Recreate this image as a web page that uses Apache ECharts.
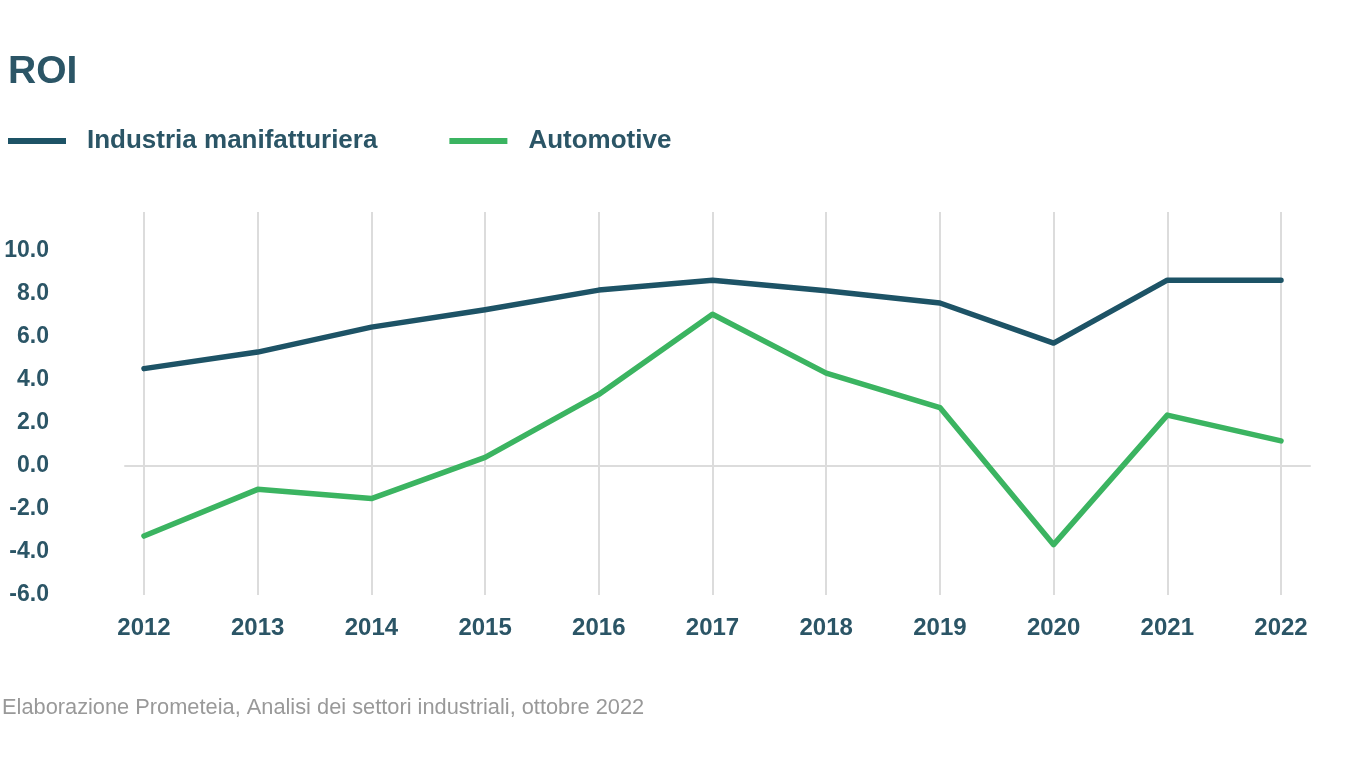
<!DOCTYPE html>
<html>
<head>
<meta charset="utf-8">
<script src="https://cdn.jsdelivr.net/npm/echarts@6/dist/echarts.min.js"></script>
<style>html,body{margin:0;padding:0;background:#fff}#c{width:1364px;height:782px}</style>
</head>
<body>
<div id="c"></div>
<script>
const years = [2012, 2013, 2014, 2015, 2016, 2017, 2018, 2019, 2020, 2021, 2022];
const industria = [4.52, 5.29, 6.45, 7.26, 8.17, 8.63, 8.14, 7.57, 5.71, 8.63, 8.63];
const automotive = [-3.26, -1.09, -1.52, 0.40, 3.32, 7.05, 4.31, 2.71, -3.66, 2.36, 1.16];
const yTicks = [-6, -4, -2, 0, 2, 4, 6, 8, 10];

const DARK = '#1d5366';
const GREEN = '#3bb461';
const TXT = '#2b5566';
const FONT = 'Liberation Sans, Arial, sans-serif';

const chart = echarts.init(document.getElementById('c'), null, {renderer: 'canvas'});
chart.setOption({
  animation: false,
  textStyle: {fontFamily: FONT},
  title: [
    {text: 'ROI', left: 3, top: 48, textStyle: {fontSize: 39, fontWeight: 'bold', color: TXT, fontFamily: FONT}},
    {text: 'Elaborazione Prometeia, Analisi dei settori industriali, ottobre 2022', left: -3, top: 692,
     textStyle: {fontSize: 21.8, fontWeight: 'normal', color: '#999999', fontFamily: FONT}}
  ],
  legend: {
    left: 3, top: 123, itemWidth: 58, itemHeight: 6, itemGap: 72, icon: 'rect',
    textStyle: {fontSize: 26, fontWeight: 'bold', color: TXT, fontFamily: FONT, padding: [0, 0, 0, 16]},
    data: ['Industria manifatturiera', 'Automotive']
  },
  grid: {left: 125, right: 54, top: 212, bottom: 187, containLabel: false},
  xAxis: {
    type: 'value', min: 2011.833, max: 2022.255,
    axisLine: {show: true, onZero: true, lineStyle: {color: '#dcdcdc', width: 2}},
    axisTick: {show: false},
    splitLine: {show: false},
    axisLabel: {customValues: years, formatter: v => String(Math.round(v)), fontSize: 24, fontWeight: 'bold', color: TXT, margin: 21, fontFamily: FONT}
  },
  yAxis: {
    type: 'value', min: -6, max: 11.8, interval: 2,
    axisLine: {show: false}, axisTick: {show: false}, splitLine: {show: false},
    axisLabel: {customValues: yTicks, formatter: v => v.toFixed(1), fontSize: 23, fontWeight: 'bold', color: TXT, margin: 76, fontFamily: FONT}
  },
  series: [
    {
      type: 'line', name: '_grid', data: [], silent: true, z: 1,
      markLine: {silent: true, z: 1, symbol: ['none', 'none'], label: {show: false},
        lineStyle: {color: '#dcdcdc', width: 2, type: 'solid'},
        emphasis: {disabled: true},
        data: years.map(y => ({xAxis: y}))}
    },
    {
      type: 'line', name: 'Industria manifatturiera', z: 3,
      data: years.map((y, i) => [y, industria[i]]),
      showSymbol: false, symbol: 'none',
      lineStyle: {color: DARK, width: 5.5, cap: 'round', join: 'round'}, itemStyle: {color: DARK}
    },
    {
      type: 'line', name: 'Automotive', z: 3,
      data: years.map((y, i) => [y, automotive[i]]),
      showSymbol: false, symbol: 'none',
      lineStyle: {color: GREEN, width: 5.5, cap: 'round', join: 'round'}, itemStyle: {color: GREEN}
    }
  ]
});
</script>
</body>
</html>
